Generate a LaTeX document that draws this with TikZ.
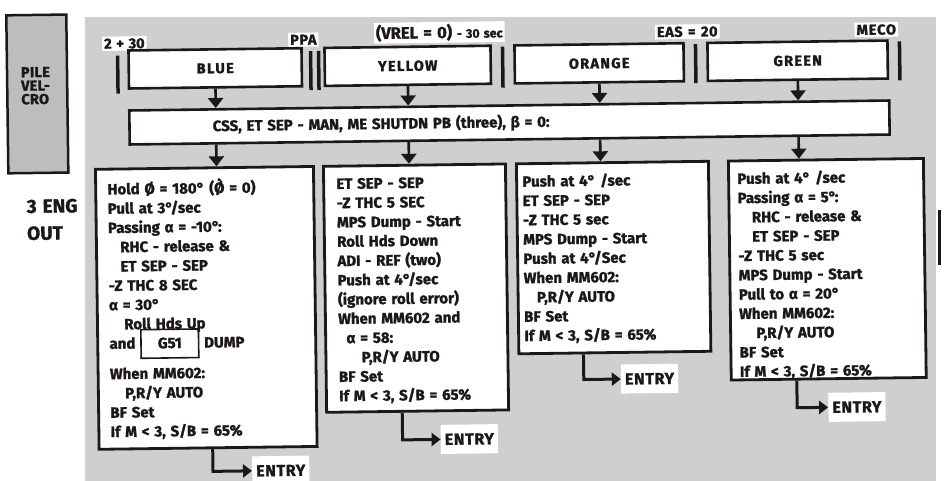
\documentclass[tikz,border=0pt]{standalone}
\usepackage{fontspec}
\setmainfont{Fira Sans}[WordSpace=1.35, BoldFeatures={FakeBold=1.5}]
\usetikzlibrary{arrows.meta}
\definecolor{ink}{HTML}{1C1818}
\definecolor{halftone}{HTML}{CFCFCF}
\definecolor{velcro}{HTML}{BDBDBD}
\newcommand\spaced[2]{{\addfontfeatures{LetterSpace=#1}#2}}
\begin{document}
\begin{tikzpicture}[x=1pt,y=-1pt,
  every node/.style={text=ink},
  txt/.style={font=\bfseries\fontsize{15}{19.3}\selectfont, align=left, anchor=north west, inner sep=0pt},
  phase/.style={draw=ink, line width=2.6pt, fill=white, minimum height=38pt, inner sep=0pt,
                font=\bfseries\fontsize{14.5}{16}\selectfont},
  cbox/.style={draw=ink, line width=2.8pt, fill=white, inner sep=0pt, anchor=north west},
  dn/.style={draw=ink, line width=2.6pt, -{Triangle[width=15pt,length=10pt]}},
  entr/.style={draw=ink, line width=3pt, line join=miter, -{Triangle[width=13pt,length=9pt]}},
  ent/.style={fill=white, inner xsep=4pt, inner ysep=9pt, anchor=west, font=\bfseries\fontsize{16}{18}\selectfont},
  lbl/.style={fill=white, inner sep=2pt, font=\bfseries\fontsize{14.5}{16}\selectfont},
  bar/.style={draw=ink, line width=3.5pt}]

\useasboundingbox (0,0) rectangle (944,481);
\fill[white] (0,0) rectangle (944,481);
\fill[halftone] (85,17) rectangle (936,481);
\draw[ink, line width=3pt] (939,210) -- (939,265);

\begin{scope}[rotate around={0.75:(472,240)}, transform shape]
% left tab
\node[draw=ink, fill=velcro, line width=2.5pt, minimum width=60pt, minimum height=158pt, anchor=north west] (pv) at (8,8) {};
\node[font=\bfseries\fontsize{14.5}{13.5}\selectfont, align=left, anchor=west, inner sep=0pt] (pvt) at (23,80) {\spaced{2}{PILE}\\\spaced{2}{VEL-}\\\spaced{2}{CRO}};
\node[font=\bfseries\fontsize{19}{27}\selectfont, align=left, anchor=west, inner sep=0pt] (eng) at (27,214) {3 ENG\\OUT};

% top labels
\node[lbl] (l230) at (127,39) {2 + 30};
\node[lbl] (lppa) at (306,37.5) {\spaced{4}{PPA}};
\node[lbl] (lvrel) at (442,32) {{\fontsize{16.5}{18}\selectfont (VREL = 0)} {\fontsize{12.5}{14}\selectfont - 30 sec}};
\node[lbl] (leas) at (690,34.5) {\spaced{4}{EAS = 20}};
\node[lbl] (lmeco) at (879,35) {\spaced{6}{MECO}};

% bars
\draw[bar] (120,51) -- (120,89);
\draw[bar] (313,49) -- (313,88);
\draw[bar] (321,49) -- (321,88);
\draw[bar] (505,47) -- (505,88);
\draw[bar] (698,47) -- (698,86);
\draw[bar] (902,47) -- (902,86);

% phase boxes
\node[phase, minimum width=173pt] (b1) at (217.5,65) {\spaced{9}{BLUE}};
\node[phase, minimum width=166pt] (b2) at (410,65) {\spaced{9}{YELLOW}};
\node[phase, minimum width=169pt] (b3) at (601.5,65) {\spaced{9}{ORANGE}};
\node[phase, minimum width=180pt] (b4) at (800,65) {\spaced{9}{GREEN}};

% CSS bar
\node[draw=ink, line width=2.6pt, fill=white, minimum width=760pt, minimum height=34pt, inner sep=0pt] (css) at (511,123) {};
\node[font=\bfseries\fontsize{15}{16}\selectfont, anchor=west, inner sep=0pt] (csst) at (214,123)
  {CSS, ET SEP - MAN, ME SHUTDN PB (three), β = 0:};

% content boxes
\node[cbox, minimum width=218pt, minimum height=280pt] (c1) at (95,163) {};
\node[cbox, minimum width=182pt, minimum height=246pt] (c2) at (323,163) {};
\node[cbox, minimum width=192pt, minimum height=190pt] (c3) at (516,163) {};
\node[cbox, minimum width=195pt, minimum height=219pt] (c4) at (728,163) {};

% arrows down
\foreach \b/\c in {b1/c1,b2/c2,b3/c3,b4/c4}{
  \draw[dn] (\b.south) -- (\b.south |- css.north);
  \draw[dn] (css.south -| \b.south) -- (\c.north -| \b.south);
}

% texts
\node[txt] (t1) at (108,175) {\rule{0pt}{12pt}Hold Ø = 180° (Ø̇ = 0)\\
Pull at 3°/sec\\
Passing α = -10°:\\
\hspace*{12pt}RHC - release \&\\
\hspace*{12pt}ET SEP - SEP\\
-Z THC 8 SEC\\
α = 30°\\
\hspace*{15pt}Roll Hds Up\\
and \smash{\setlength{\fboxrule}{1.6pt}\setlength{\fboxsep}{0pt}\fbox{\makebox[56pt]{\rule[-9pt]{0pt}{27pt}G51}}} DUMP\\[11pt]
When MM602:\\
\hspace*{15pt}P,R/Y AUTO\\
BF Set\\
If M < 3, S/B = 65\%};

\node[txt] (t2) at (337,175) {\rule{0pt}{12pt}ET SEP - SEP\\
-Z THC 5 SEC\\
MPS Dump - Start\\
Roll Hds Down\\
ADI - REF (two)\\
Push at 4°/sec\\
(ignore roll error)\\
When MM602 and\\
\hspace*{8pt}α = 58:\\
\hspace*{23pt}P,R/Y AUTO\\
BF Set\\
If M < 3, S/B = 65\%};

\node[txt] (t3) at (523,175) {\rule{0pt}{12pt}Push at 4° /sec\\
ET SEP - SEP\\
-Z THC 5 sec\\
MPS Dump - Start\\
Push at 4°/Sec\\
When MM602:\\
\hspace*{13pt}P,R/Y AUTO\\
BF Set\\
If M < 3, S/B = 65\%};

\node[txt] (t4) at (738,175) {\rule{0pt}{12pt}Push at 4° /sec\\
Passing α = 5°:\\
\hspace*{14pt}RHC - release \&\\
\hspace*{14pt}ET SEP - SEP\\
-Z THC 5 sec\\
MPS Dump - Start\\
Pull to α = 20°\\
When MM602:\\
\hspace*{17pt}P,R/Y AUTO\\
BF Set\\
If M < 3, S/B = 65\%};

% entry
\node[ent] (e1) at (249,468) {\spaced{4}{ENTRY}};
\node[ent] (e2) at (438,439) {\spaced{4}{ENTRY}};
\node[ent] (e3) at (619,381) {\spaced{4}{ENTRY}};
\node[ent] (e4) at (826,412) {\spaced{4}{ENTRY}};
\coordinate (s1) at (210,0);
\coordinate (s2) at (400,0);
\coordinate (s3) at (582,0);
\coordinate (s4) at (795,0);
\draw[entr] (c1.south -| s1) |- (e1.west);
\draw[entr] (c2.south -| s2) |- (e2.west);
\draw[entr] (c3.south -| s3) |- (e3.west);
\draw[entr] (c4.south -| s4) |- (e4.west);
\end{scope}
\end{tikzpicture}
\end{document}
